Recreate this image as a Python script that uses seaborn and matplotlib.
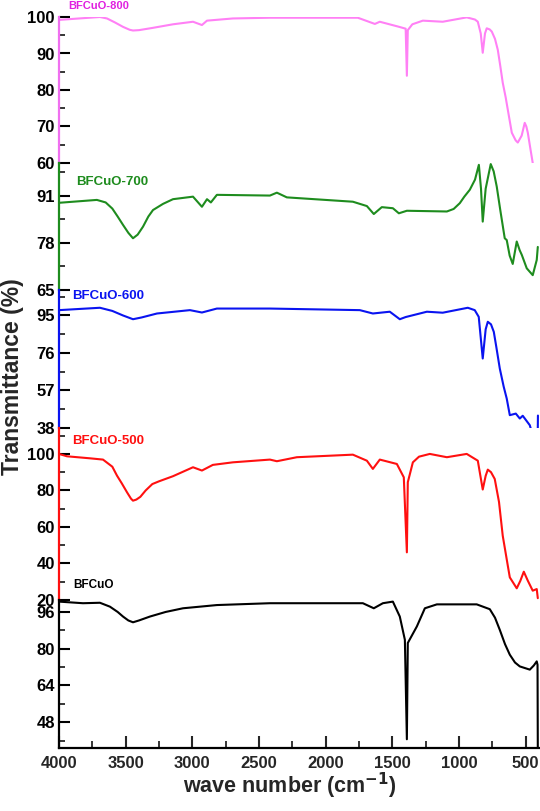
import numpy as np
import pandas as pd
import seaborn as sns
import matplotlib.pyplot as plt
from matplotlib.ticker import MultipleLocator

sns.set_theme(style="ticks")
plt.rcParams['font.family'] = ['Liberation Sans', 'DejaVu Sans']
plt.rcParams['font.weight'] = 'bold'

# Spectra (wave number in cm-1, transmittance in %)

wn_800 = [4000, 3850, 3693, 3640, 3580, 3520, 3470, 3445, 3400, 3300, 3145, 2995, 2928,
          2890, 2696, 2418, 1759, 1631, 1594, 1459, 1400, 1391, 1384, 1350, 1271, 1122,
          942, 880, 859, 837, 822, 805, 792, 770, 754, 730, 709, 690, 672, 650, 634, 604,
          575, 559, 530, 507, 495, 484, 465, 447]
t_800 = [99.2, 99.6, 100.0, 99.6, 98.5, 97.3, 96.5, 96.3, 96.4, 97.0, 98.0, 98.7, 97.8,
         99.0, 99.6, 99.8, 99.8, 98.1, 98.7, 97.4, 96.8, 83.9, 96.4, 98.0, 99.0, 98.7,
         99.9, 99.3, 98.7, 95.5, 90.2, 95.5, 96.9, 96.6, 96.0, 94.0, 91.0, 86.5, 82.0,
         78.0, 74.6, 68.3, 66.2, 65.6, 67.5, 71.0, 70.0, 68.3, 64.0, 60.0]

wn_700 = [4000, 3716, 3650, 3600, 3560, 3520, 3480, 3445, 3410, 3370, 3330, 3295, 3220,
          3145, 2995, 2928, 2890, 2861, 2816, 2418, 2366, 2291, 1796, 1691, 1639, 1579,
          1496, 1451, 1391, 1091, 1040, 994, 960, 919, 880, 851, 835, 822, 800, 762, 740,
          717, 690, 657, 642, 620, 597, 567, 545, 529, 492, 447, 417, 409]
t_700 = [89.1, 89.9, 89.2, 87.5, 85.3, 83.0, 80.8, 79.3, 80.3, 82.5, 85.3, 87.1, 88.8,
         90.1, 90.8, 88.0, 90.1, 89.2, 91.3, 91.1, 91.9, 90.6, 89.4, 88.2, 86.0, 87.9,
         87.6, 86.2, 86.9, 86.7, 87.4, 89.0, 90.8, 92.7, 95.5, 99.6, 93.0, 83.9, 93.0,
         99.8, 97.8, 93.6, 87.0, 79.3, 78.8, 74.5, 72.2, 78.4, 76.0, 74.7, 71.0, 69.1,
         73.3, 76.9]

wn_600 = [4000, 3693, 3600, 3520, 3445, 3380, 3265, 3018, 2928, 2816, 2418, 1744, 1646,
          1519, 1444, 1400, 1241, 1122, 934, 882, 852, 822, 800, 784, 760, 739, 720, 694,
          665, 642, 619, 574, 544, 522, 469, 447, 417, 411, 408]
t_600 = [97.7, 98.9, 97.3, 95.0, 93.1, 94.0, 96.0, 97.7, 96.5, 98.5, 98.5, 97.7, 96.0,
         96.9, 93.1, 94.2, 96.9, 96.4, 98.9, 97.7, 94.3, 73.2, 88.0, 91.8, 90.5, 86.7,
         79.0, 68.1, 59.0, 52.9, 44.5, 45.3, 42.8, 44.2, 39.4, 34.2, 28.0, 26.1, 44.3]

wn_500 = [4000, 3940, 3768, 3670, 3600, 3565, 3530, 3490, 3460, 3445, 3420, 3390, 3350,
          3300, 3250, 3145, 2995, 2928, 2846, 2696, 2418, 2366, 2216, 1796, 1691, 1646,
          1594, 1466, 1414, 1391, 1384, 1346, 1300, 1219, 1091, 942, 859, 822, 800, 784,
          760, 732, 700, 672, 634, 619, 567, 540, 514, 484, 447, 417, 409]
t_500 = [100.0, 98.7, 97.6, 96.9, 93.0, 88.1, 84.0, 79.0, 75.5, 74.4, 75.0, 76.5, 80.0,
         83.5, 85.0, 87.8, 92.7, 90.9, 94.0, 95.4, 96.9, 96.0, 98.2, 99.6, 96.3, 91.8,
         96.9, 94.5, 87.2, 46.1, 84.5, 95.4, 98.5, 100.0, 98.2, 100.0, 96.3, 80.5, 88.0,
         91.4, 90.0, 86.3, 73.7, 55.2, 38.8, 32.4, 26.4, 30.5, 35.5, 30.6, 25.1, 26.0, 21.0]

wn_bf = [4000, 3820, 3693, 3618, 3560, 3520, 3480, 3445, 3400, 3318, 3200, 3070, 2816,
         2418, 1721, 1639, 1571, 1496, 1444, 1406, 1391, 1384, 1316, 1256, 1166, 867, 769,
         730, 694, 655, 619, 580, 544, 469, 439, 417, 411, 409]
t_bf = [100.5, 99.8, 100.0, 98.3, 96.0, 94.0, 92.3, 91.5, 92.3, 94.0, 96.0, 97.6, 99.0,
        99.8, 99.8, 97.6, 99.8, 100.5, 94.0, 83.9, 40.6, 82.5, 89.7, 97.6, 99.3, 99.3,
        97.2, 93.5, 88.2, 82.0, 77.4, 74.0, 72.3, 70.9, 72.7, 74.5, 73.0, 37.2]

labels = ['BFCuO-800', 'BFCuO-700', 'BFCuO-600', 'BFCuO-500', 'BFCuO']
line_colors = ['#FF80F5', '#1E8C1E', '#0A14F0', '#FF1010', '#000000']
label_colors = ['#E020E0', '#1E8C1E', '#0A14F0', '#FF1010', '#000000']
series = [(wn_800, t_800), (wn_700, t_700), (wn_600, t_600), (wn_500, t_500), (wn_bf, t_bf)]

# panel layout (pixel rows from the top), y limits and ticks
panel_px = [(17, 163), (163, 290), (290, 428), (428, 600), (600, 748)]
ylims = [(60, 100), (65, 100.1), (38, 107.9), (20, 114.2), (36.8, 101.2)]
major = [10, 13, 19, 20, 16]
first_tick = [60, 65, 38, 20, 48]
label_pos = [(68, 6, 8), (76, 182, 9.5), (72, 296, 9.5), (72, 441, 9.5), (73, 585, 8.5)]

W, H = 540, 811
fig = plt.figure(figsize=(W / 100, H / 100), dpi=100)
fig.patch.set_facecolor('white')

left, right = 59, 539
for i, ((top, bot), (wn, t)) in enumerate(zip(panel_px, series)):
    ax = fig.add_axes([left / W, 1 - bot / H, (right - left) / W, (bot - top) / H])
    ax.patch.set_alpha(0)
    df = pd.DataFrame({'wn': wn, 't': t})
    sns.lineplot(data=df, x='wn', y='t', ax=ax, color=line_colors[i], lw=1.5,
                 estimator=None, sort=True)
    ax.set_xlim(4000, 400)
    ax.set_ylim(*ylims[i])
    ax.yaxis.set_major_locator(MultipleLocator(major[i], offset=first_tick[i] % major[i]))
    ax.yaxis.set_minor_locator(MultipleLocator(major[i] / 2,
                                               offset=first_tick[i] % (major[i] / 2)))
    ax.tick_params(axis='y', which='major', direction='in', length=8, width=1.5,
                   labelsize=12, colors='black', pad=3)
    ax.tick_params(axis='y', which='minor', direction='in', length=4, width=1.3)
    for lab in ax.get_yticklabels():
        lab.set_fontweight('bold')
    for s in ['top', 'right']:
        ax.spines[s].set_visible(False)
    ax.spines['left'].set_color(line_colors[i] if i != 0 else '#F070F0')
    ax.spines['left'].set_linewidth(1.6)
    ax.set_xlabel('')
    ax.set_ylabel('')
    if i < 4:
        ax.spines['bottom'].set_visible(False)
        ax.set_xticks([])
    else:
        ax.spines['bottom'].set_linewidth(1.6)
        ax.spines['bottom'].set_color('black')
        ax.xaxis.set_major_locator(MultipleLocator(500))
        ax.xaxis.set_minor_locator(MultipleLocator(250))
        ax.tick_params(axis='x', which='major', direction='in', length=9, width=1.5,
                       labelsize=12, pad=6)
        ax.tick_params(axis='x', which='minor', direction='in', length=5, width=1.3)
        for lab in ax.get_xticklabels():
            lab.set_fontweight('bold')
    lx, ly, fs = label_pos[i]
    fig.text(lx / W, 1 - ly / H, labels[i], color=label_colors[i], fontsize=fs,
             fontweight='bold', ha='left', va='center')

fig.text(13 / W, 1 - 377 / H, 'Transmittance (%)', rotation=90, fontsize=16.5,
         fontweight='bold', ha='center', va='center')
fig.text(290 / W, 1 - 786 / H, 'wave number (cm$^{\\mathbf{-1}}$)', fontsize=15.5,
         fontweight='bold', ha='center', va='center')

fig.savefig('out.png', dpi=100)
